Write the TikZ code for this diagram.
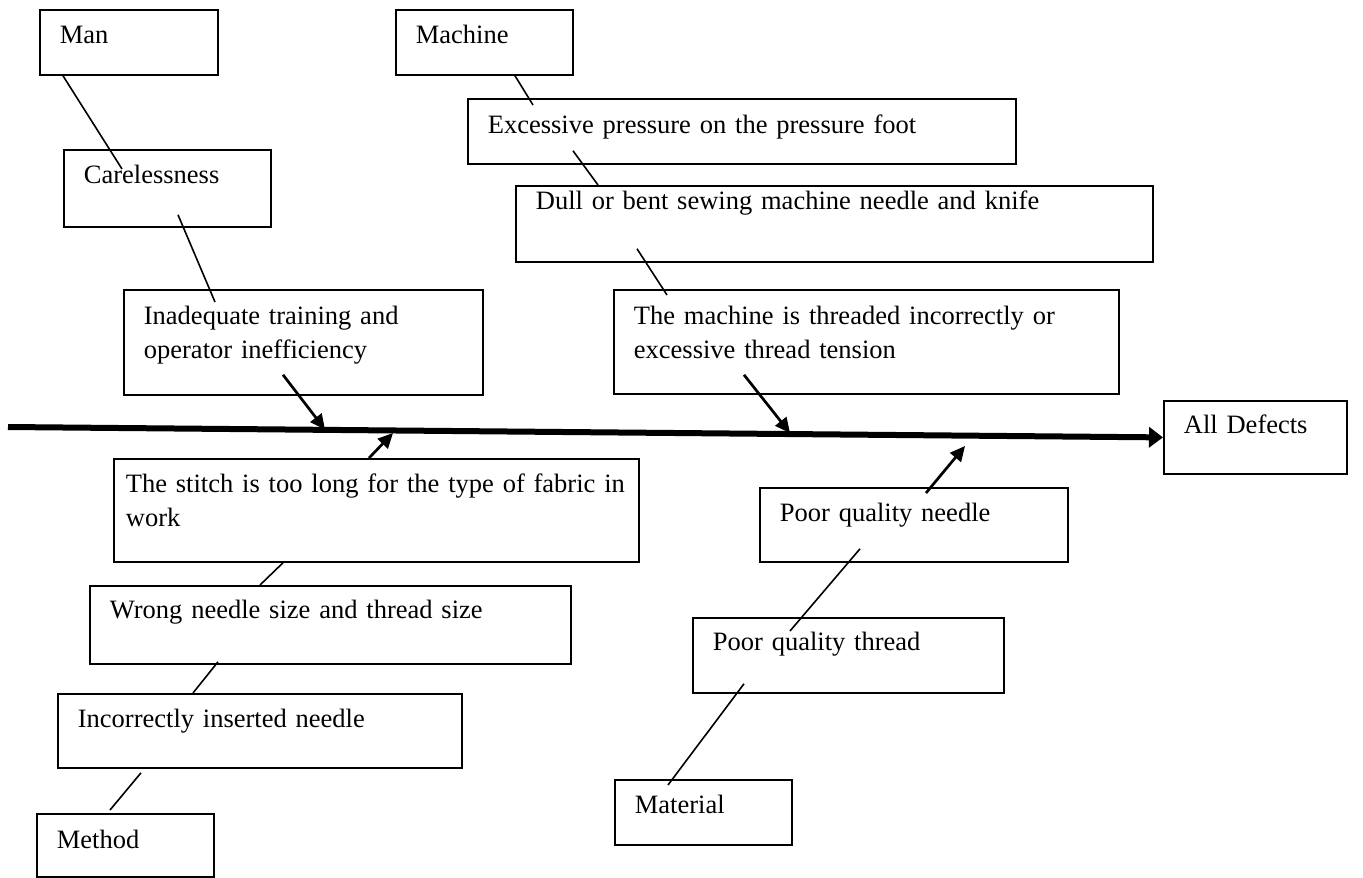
\documentclass[tikz,border=0pt]{standalone}
\usepackage{fontspec}
\setmainfont{Liberation Serif}
\usetikzlibrary{arrows.meta,calc}

\begin{document}
\begin{tikzpicture}[
  x=1pt, y=-1pt,
  font=\fontsize{26.5pt}{33.5pt}\selectfont,
  cbox/.style={draw, line width=1.8pt, anchor=north west, align=left,
    inner xsep=20pt, inner ysep=0pt, text height=34pt},
  link/.style={line width=1.6pt},
  cause/.style={line width=2.7pt, -{Triangle[length=15pt,width=14pt]}},
  spine/.style={line width=6pt, -{Triangle[length=14pt,width=20pt]}}
]
% page
\fill[white] (0,0) rectangle (1363,878);

% --- Man branch ---
\node[cbox, text width=138pt, text depth=31pt] (man) at (39,9) {Man};
\node[cbox, text width=167pt, text depth=43pt] (care) at (63,149) {Carelessness};
\node[cbox, text width=319pt, text depth=70pt, text height=35pt] (inad) at (123,289)
  {Inadequate training and\\operator inefficiency};

% --- Machine branch ---
\node[cbox, text width=137pt, text depth=31pt] (mach) at (395,9) {Machine};
\node[cbox, text width=508pt, text depth=30pt, text height=35pt] (exc) at (467,98)
  {Excessive pressure on the pressure foot};
\node[cbox, text width=597pt, text depth=52pt, text height=24pt] (dull) at (515,185)
  {Dull or bent sewing machine needle and knife};
\node[cbox, text width=465pt, text depth=69pt, text height=35pt] (thr) at (613,289)
  {The machine is threaded incorrectly or\\excessive thread tension};

% --- Effect ---
\node[cbox, text width=143pt, text depth=40pt, text height=33pt] (def) at (1163,400) {All Defects};

% --- Method branch ---
\node[cbox, inner xsep=12pt, text width=501pt, text depth=69pt] (stitch) at (113,458)
  {The stitch is too long for the type of fabric in\\work};
\node[cbox, text width=441pt, text depth=45pt, text height=33pt] (wrong) at (89,585)
  {Wrong needle size and thread size};
\node[cbox, text width=364pt, text depth=40pt] (inc) at (57,693)
  {Incorrectly inserted needle};
\node[cbox, text width=137pt, text depth=28pt, text height=35pt] (meth) at (36,813) {Method};

% --- Material branch ---
\node[cbox, text width=268pt, text depth=40pt] (needle) at (759,487) {Poor quality needle};
\node[cbox, text width=271pt, text depth=42pt, text height=33pt] (thread) at (692,617)
  {Poor quality thread};
\node[cbox, text width=137pt, text depth=31pt] (mat) at (614,779) {Material};

% --- spine ---
\coordinate (tail) at (8,427);
\draw[spine] (tail) -- (def.west);

% points where the cause arrows meet the spine
\coordinate (s1) at (325,429.5);
\coordinate (s2) at (393,433);
\coordinate (s3) at (790,433);
\coordinate (s4) at (965,446);

% --- links between causes ---
\draw[link] ($(man.south west)+(24,0)$) -- ($(care.north west)+(59,20)$);
\draw[link] ($(care.south west)+(115,-13)$) -- ($(inad.north west)+(92,13)$);
\draw[link] ($(mach.south west)+(120,0)$) -- ($(exc.north west)+(66,7)$);
\draw[link] ($(exc.south west)+(106,-14)$) -- ($(dull.north west)+(83,0)$);
\draw[link] ($(dull.south west)+(122,-14)$) -- ($(thr.north west)+(54,6)$);
\draw[link] ($(stitch.south west)+(170,0)$) -- ($(wrong.north west)+(171,0)$);
\draw[link] ($(wrong.south west)+(129,-3)$) -- ($(inc.north west)+(136,0)$);
\draw[link] ($(inc.south west)+(84,4)$) -- ($(meth.north west)+(74,-3)$);
\draw[link] ($(needle.south west)+(101,-14)$) -- ($(thread.north west)+(98,14)$);
\draw[link] ($(thread.south west)+(52,-10)$) -- ($(mat.north west)+(54,6)$);

% --- arrows onto the spine ---
\draw[cause] ($(inad.south west)+(160,-21)$) -- (s1);
\draw[cause] ($(stitch.north west)+(256,0)$) -- (s2);
\draw[cause] ($(thr.south west)+(131,-20)$) -- (s3);
\draw[cause] ($(needle.north west)+(167,6)$) -- (s4);
\end{tikzpicture}
\end{document}
